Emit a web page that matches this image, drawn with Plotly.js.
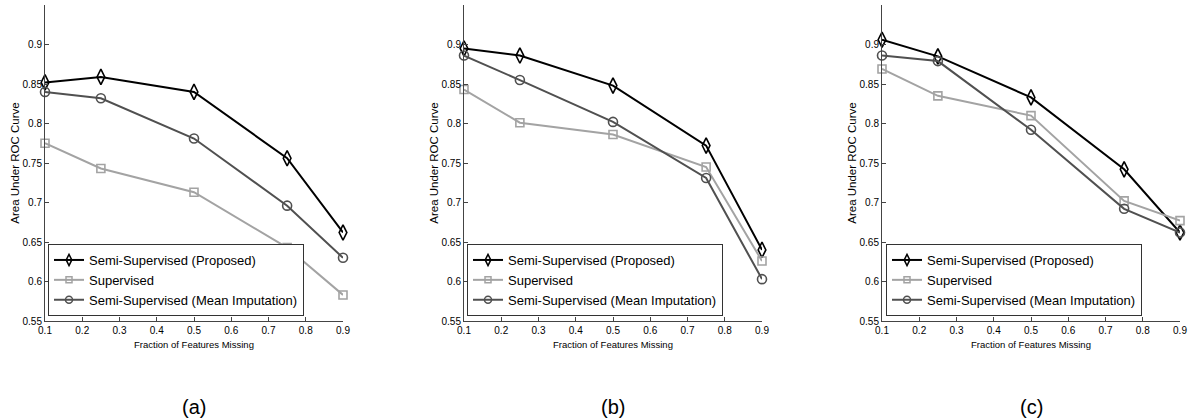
<!DOCTYPE html>
<html><head><meta charset="utf-8">
<script src="https://cdn.plot.ly/plotly-3.0.1.min.js"></script>
<style>html,body{margin:0;padding:0;background:#fff}#chart{width:1192px;height:420px}</style>
</head><body><div id="chart"></div>
<script>
const fractionMissing = [0.1, 0.25, 0.5, 0.75, 0.9];
const panelLabels = ['(a)', '(b)', '(c)'];
const seriesNames = ['Semi-Supervised (Proposed)', 'Supervised', 'Semi-Supervised (Mean Imputation)'];
const proposedA = [0.852, 0.859, 0.840, 0.756, 0.662];
const supervisedA = [0.775, 0.743, 0.713, 0.643, 0.583];
const meanImpA = [0.840, 0.832, 0.781, 0.696, 0.630];
const proposedB = [0.895, 0.886, 0.848, 0.772, 0.640];
const supervisedB = [0.843, 0.801, 0.786, 0.745, 0.626];
const meanImpB = [0.886, 0.855, 0.802, 0.731, 0.603];
const proposedC = [0.906, 0.885, 0.833, 0.742, 0.662];
const supervisedC = [0.869, 0.835, 0.810, 0.702, 0.677];
const meanImpC = [0.886, 0.879, 0.792, 0.692, 0.662];
const xTickVals = [0.1, 0.2, 0.3, 0.4, 0.5, 0.6, 0.7, 0.8, 0.9];
const xTickText = ['0.1', '0.2', '0.3', '0.4', '0.5', '0.6', '0.7', '0.8', '0.9'];
const yTickVals = [0.55, 0.6, 0.65, 0.7, 0.75, 0.8, 0.85, 0.9];
const yTickText = ['0.55', '0.6', '0.65', '0.7', '0.75', '0.8', '0.85', '0.9'];
const xTitle = 'Fraction of Features Missing';
const yTitle = 'Area Under ROC Curve';

const panels = [
  {p: proposedA, s: supervisedA, m: meanImpA},
  {p: proposedB, s: supervisedB, m: meanImpB},
  {p: proposedC, s: supervisedC, m: meanImpC}
];
const W = 1192, H = 420;
const axLeft = [45, 464, 882];
const axWidth = 298;
const yBottom = 321, yTop = 5;
const legLeft = [48, 467, 886];
const legBottom = 316;

const styles = [
  {color: '#000000', symbol: 'diamond-tall-open', size: 11, legSize: 8},
  {color: '#a3a3a3', symbol: 'square-open', size: 8, legSize: 6},
  {color: '#505050', symbol: 'circle-open', size: 9, legSize: 7}
];
const fam = 'Liberation Sans, Arial, sans-serif';
const tickFont = {family: fam, size: 10, color: '#000'};

const data = [];
const layout = {
  width: W, height: H,
  margin: {l: 0, r: 0, t: 0, b: 0},
  paper_bgcolor: '#fff', plot_bgcolor: '#fff',
  showlegend: true,
  annotations: []
};

panels.forEach((pn, i) => {
  const sfx = i === 0 ? '' : String(i + 1);
  const legName = 'legend' + sfx;
  const series = [pn.p, pn.s, pn.m];
  series.forEach((vals, k) => {
    data.push({
      type: 'scatter', mode: 'lines+markers',
      x: fractionMissing, y: vals,
      name: seriesNames[k],
      xaxis: 'x' + sfx, yaxis: 'y' + sfx,
      showlegend: false,
      cliponaxis: false,
      line: {color: styles[k].color, width: 2},
      marker: {symbol: styles[k].symbol, size: styles[k].size, color: styles[k].color, line: {color: styles[k].color, width: 1.6}}
    });
  });
  // legend entries (no data of their own)
  series.forEach((vals, k) => {
    data.push({
      type: 'scatter', mode: 'lines+markers',
      x: [null], y: [null],
      name: seriesNames[k],
      xaxis: 'x' + sfx, yaxis: 'y' + sfx,
      legend: legName, showlegend: true,
      line: {color: styles[k].color, width: 2},
      marker: {symbol: styles[k].symbol, size: styles[k].legSize, color: styles[k].color, line: {color: styles[k].color, width: 1.5}}
    });
  });
  const x0 = axLeft[i] / W, x1 = (axLeft[i] + axWidth) / W;
  layout['xaxis' + sfx] = {
    domain: [x0, x1], range: [0.1, 0.9], anchor: 'y' + sfx,
    tickvals: xTickVals, ticktext: xTickText,
    ticks: 'inside', ticklen: 4, tickcolor: '#444', tickwidth: 1,
    showline: true, linecolor: '#444', linewidth: 1,
    showgrid: false, zeroline: false, mirror: false,
    tickfont: tickFont,
    title: {text: xTitle, font: {family: fam, size: 9.5, color: '#000'}, standoff: 6}
  };
  layout['yaxis' + sfx] = {
    domain: [(H - yBottom) / H, (H - yTop) / H], range: [0.55, 0.95], anchor: 'x' + sfx,
    tickvals: yTickVals, ticktext: yTickText,
    ticks: 'inside', ticklen: 4, tickcolor: '#444', tickwidth: 1,
    showline: true, linecolor: '#444', linewidth: 1,
    showgrid: false, zeroline: false, mirror: false,
    tickfont: tickFont,
    title: {text: yTitle, font: {family: fam, size: 11.5, color: '#000'}, standoff: 0}
  };
  layout[legName] = {
    x: legLeft[i] / W, y: (H - legBottom) / H,
    xanchor: 'left', yanchor: 'bottom',
    bgcolor: '#ffffff', bordercolor: '#333', borderwidth: 1,
    font: {family: fam, size: 13, color: '#000'},
    tracegroupgap: 0, itemwidth: 30
  };
  layout.annotations.push({
    text: panelLabels[i], xref: 'paper', yref: 'paper',
    x: (axLeft[i] + axWidth / 2) / W, y: (H - 407) / H,
    xanchor: 'center', yanchor: 'middle', showarrow: false,
    font: {family: fam, size: 20, color: '#000'}
  });
});

Plotly.newPlot('chart', data, layout, {displayModeBar: false, staticPlot: true});
</script>
</body></html>
